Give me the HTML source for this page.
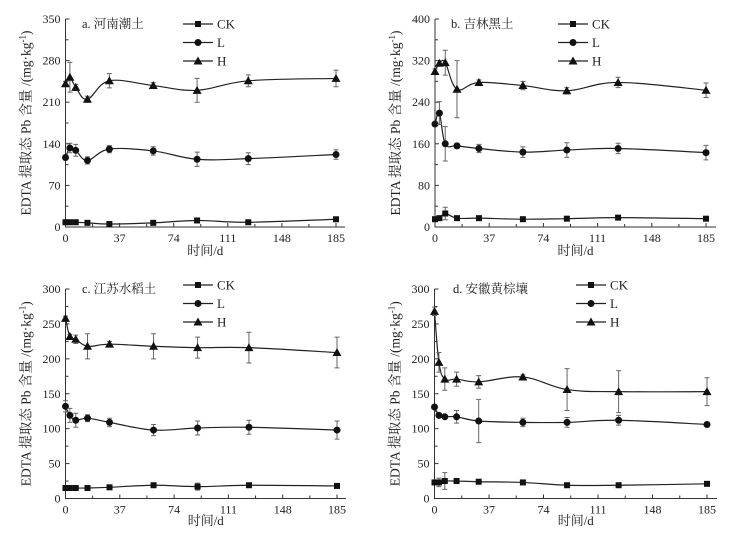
<!DOCTYPE html>
<html><head><meta charset="utf-8">
<style>
body{margin:0;background:#fff;width:756px;height:535px;overflow:hidden}
svg text{font-family:"Liberation Serif","Noto Serif CJK SC",serif;fill:#222}
</style></head>
<body>
<svg id="chart" width="756" height="535" viewBox="0 0 756 535" xmlns="http://www.w3.org/2000/svg"></svg>
<script>
const days = [0, 3, 7, 15, 30, 60, 90, 125, 185];
const xTicks = [0, 37, 74, 111, 148, 185];
const panelTitles = ["a. 河南潮土", "b. 吉林黑土", "c. 江苏水稻土", "d. 安徽黄棕壤"];
const yMaxes = [350, 400, 300, 300];
const yTickSteps = [70, 80, 50, 50];
const ckA = [8, 8, 8, 7, 5, 7, 11, 8, 13];
const lA = [117, 133, 129, 112, 131, 128, 114, 115, 122];
const hA = [241, 252, 235, 215, 246, 238, 230, 246, 250];
const hAErr = [4, 25, 5, 5, 12, 5, 20, 10, 14];
const lAErr = [4, 8, 10, 6, 6, 7, 12, 10, 8];
const ckB = [15, 17, 26, 17, 17, 15, 16, 18, 16];
const lB = [198, 219, 160, 156, 151, 144, 148, 151, 143];
const hB = [299, 315, 316, 265, 278, 272, 262, 278, 263];
const hBErr = [5, 5, 24, 55, 5, 8, 6, 10, 14];
const lBErr = [4, 22, 33, 5, 8, 10, 14, 10, 14];
const ckC = [15, 15, 15, 15, 16, 19, 17, 19, 18];
const lC = [132, 119, 112, 115, 109, 98, 101, 102, 98];
const hC = [258, 232, 228, 218, 221, 218, 216, 216, 209];
const hCErr = [3, 3, 6, 18, 4, 18, 15, 22, 22];
const lCErr = [8, 10, 10, 5, 6, 8, 10, 10, 13];
const ckD = [23, 23, 25, 25, 24, 23, 19, 19, 21];
const lD = [131, 119, 117, 117, 111, 109, 109, 112, 106];
const hD = [268, 195, 171, 171, 167, 174, 156, 153, 153];
const hDErr = [6, 14, 16, 10, 9, 3, 30, 30, 20];
const lDErr = [2, 3, 3, 9, 31, 6, 7, 7, 3];
const ckErr = [[2,2,2,2,2,2,2,2,2],[2,3,12,2,2,2,2,2,2],[2,2,2,2,2,2,5,2,2],[2,6,12,2,2,2,2,2,2]];
const allCK = [ckA, ckB, ckC, ckD];
const allL = [lA, lB, lC, lD];
const allH = [hA, hB, hC, hD];
const allHErr = [hAErr, hBErr, hCErr, hDErr];
const allLErr = [lAErr, lBErr, lCErr, lDErr];

const layout = [
 {x0:65.5, x185:336, xEnd:345, yTop:19, yBot:227, lgX:183, lgY:24, tX:82, tY:28, xtY:255},
 {x0:435, x185:706, xEnd:716, yTop:19, yBot:227, lgX:558, lgY:24, tX:451, tY:28, xtY:255},
 {x0:65.5, x185:337, xEnd:346, yTop:289, yBot:498.5, lgX:183, lgY:285, tX:82, tY:293, xtY:525},
 {x0:434.5, x185:707, xEnd:717, yTop:289, yBot:498.5, lgX:576, lgY:285, tX:453, tY:293, xtY:525}
];
const svg = document.getElementById('chart');
const NS = 'http://www.w3.org/2000/svg';
function mk(tag, attrs, parent){const e=document.createElementNS(NS,tag);for(const k in attrs)e.setAttribute(k,attrs[k]);(parent||svg).appendChild(e);return e;}
function marker(g, type, x, y){
  let m;
  if(type==='CK') m = mk('rect',{x:x-3,y:y-3,width:6,height:6,fill:'#111'},g);
  else if(type==='L') m = mk('circle',{cx:x,cy:y,r:3.5,fill:'#111'},g);
  else m = mk('polygon',{points:`${x},${y-4.5} ${x-4.5},${y+3.5} ${x+4.5},${y+3.5}`,fill:'#111'},g);
  return m;
}
function spline(pts){
  let d=`M${pts[0][0]},${pts[0][1]}`;
  for(let i=0;i<pts.length-1;i++){
    const p0=pts[Math.max(0,i-1)],p1=pts[i],p2=pts[i+1],p3=pts[Math.min(pts.length-1,i+2)];
    const t=0.18;
    d+=` C${p1[0]+(p2[0]-p0[0])*t},${p1[1]+(p2[1]-p0[1])*t} ${p2[0]-(p3[0]-p1[0])*t},${p2[1]-(p3[1]-p1[1])*t} ${p2[0]},${p2[1]}`;
  }
  return d;
}
layout.forEach((L,pi)=>{
  const g = mk('g',{});
  
  
  const xs = d => L.x0 + (L.x185-L.x0)*d/185;
  const ys = v => L.yBot - (L.yBot-L.yTop)*v/yMaxes[pi];
  const ax = mk('path',{d:`M${L.x0},${L.yTop} V${L.yBot} H${L.xEnd}`,stroke:'#333','stroke-width':1,fill:'none'},g);
  
  
  const step=yTickSteps[pi];
  for(let v=0; v<=yMaxes[pi]+0.01; v+=step/2){
    const major = Math.abs(v/step-Math.round(v/step))<0.01;
    mk('line',{x1:L.x0,x2:L.x0+(major?4:3),y1:ys(v),y2:ys(v),stroke:'#333'},g);
    if(major){
      const t=mk('text',{x:L.x0-5,y:ys(v)+4,'text-anchor':'end','font-size':12},g);
      t.textContent=v;
      
      
    }
  }
  for(let i=0;i<xTicks.length;i++){
    const d=xTicks[i];
    mk('line',{x1:xs(d),x2:xs(d),y1:L.yBot,y2:L.yBot-4,stroke:'#333'},g);
    if(i<xTicks.length-1) mk('line',{x1:xs(d+18.5),x2:xs(d+18.5),y1:L.yBot,y2:L.yBot-3,stroke:'#333'},g);
    const t=mk('text',{x:xs(d),y:L.yBot+15,'text-anchor':'middle','font-size':12},g);
    t.textContent=d;
    
    
  }
  const xt=mk('text',{x:(L.x0+L.xEnd)/2,y:L.xtY,'text-anchor':'middle','font-size':13},g);
  xt.textContent='时间/d';
  
  
  const yc=(L.yTop+L.yBot)/2, yx=L.x0-35;
  const yt=mk('text',{x:yx,y:yc,'text-anchor':'middle','font-size':13.5,transform:`rotate(-90 ${yx} ${yc})`},g);
  yt.innerHTML='EDTA 提取态 Pb 含量 /(mg·kg<tspan dy="-5" font-size="9">-1</tspan><tspan dy="5">)</tspan>';
  
  
  const pt=mk('text',{x:L.tX,y:L.tY,'font-size':12.5},g);
  pt.textContent=panelTitles[pi];
  
  
  const series=[['CK',allCK[pi],ckErr[pi]],['L',allL[pi],allLErr[pi]],['H',allH[pi],allHErr[pi]]];
  series.forEach(([name,vals,errs],si)=>{
    const sg=mk('g',{},g);
    
    
    const pts=vals.map((v,i)=>[xs(days[i]),ys(v)]);
    mk('path',{d:spline(pts),stroke:'#222','stroke-width':1.2,fill:'none'},sg);
    vals.forEach((v,i)=>{
      const x=xs(days[i]), e=errs[i];
      mk('path',{d:`M${x},${ys(v-e)} V${ys(v+e)} M${x-2.5},${ys(v-e)} H${x+2.5} M${x-2.5},${ys(v+e)} H${x+2.5}`,stroke:'#666','stroke-width':1,fill:'none'},sg);
      const m=marker(sg,name,x,ys(v));
      
      
    });
    const ly=L.lgY+si*18.5;
    const lg=mk('g',{},g);
    
    
    mk('line',{x1:L.lgX,x2:L.lgX+30,y1:ly,y2:ly,stroke:'#222','stroke-width':1.2},lg);
    marker(lg,name,L.lgX+15,ly);
    const lt=mk('text',{x:L.lgX+34,y:ly+4.5,'font-size':13},lg);
    lt.textContent=name;
  });
});
</script>
</body></html>
